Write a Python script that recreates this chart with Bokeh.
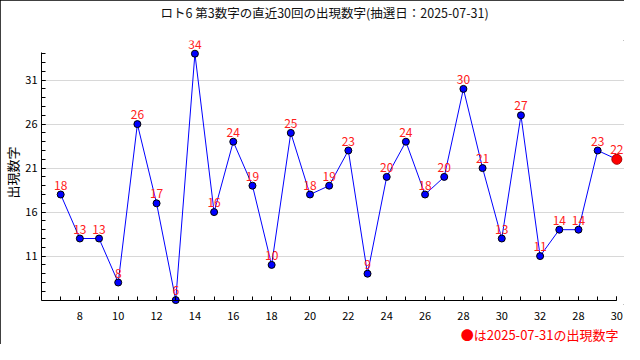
from bokeh.plotting import figure
from bokeh.models import (ColumnDataSource, LabelSet, FixedTicker, Range1d, Title,
                          LinearAxis)
from bokeh.core.properties import value
from bokeh.embed import file_html
from bokeh.resources import INLINE

FONT = "Noto Sans CJK JP"

title_text = "ロト6 第3数字の直近30回の出現数字(抽選日：2025-07-31)"
y_label = "出現数字"
legend_text = "●は2025-07-31の出現数字"

positions = list(range(1, 31))
values = [18, 13, 13, 8, 26, 17, 6, 34, 16, 24, 19, 10, 25, 18, 19,
          23, 9, 20, 24, 18, 20, 30, 21, 13, 27, 11, 14, 14, 23, 22]
tick_positions = [2, 4, 6, 8, 10, 12, 14, 16, 18, 20, 22, 24, 26, 28, 30]
tick_labels = ["8", "10", "12", "14", "16", "18", "20", "22", "24", "26",
               "28", "30", "32", "28", "30"]
y_ticks = [11, 16, 21, 26, 31]
y_minor = list(range(6, 35))

src = ColumnDataSource(dict(x=positions, y=values, t=[str(v) for v in values]))
last = ColumnDataSource(dict(x=positions[-1:], y=values[-1:]))
hist = ColumnDataSource(dict(x=positions[:-1], y=values[:-1]))

p = figure(width=624, height=344, output_backend="svg", toolbar_location=None,
           x_range=Range1d(0, 30.4), y_range=Range1d(5.5, 35.5),
           min_border_left=40, min_border_right=0, min_border_top=39,
           min_border_bottom=40)
p.styles = {"outline": "1px solid black", "outline-offset": "-1px"}
p.outline_line_color = None
p.background_fill_color = "white"
p.border_fill_color = "white"
p.title.text = ""

spacer = Title(text=" ", text_font_size="1px", standoff=16)
p.add_layout(spacer, "above")
main_title = Title(text=title_text, align="left", offset=119,
                   vertical_align="bottom", standoff=0,
                   text_font=FONT, text_font_size="12.5px",
                   text_font_style="normal", text_color="#111111")
p.add_layout(main_title, "above")

# x axis: line and ticks at y=6, labels on a second axis just below the frame
xa = p.xaxis[0]
xa.ticker = FixedTicker(ticks=tick_positions, minor_ticks=positions)
xa.fixed_location = 6
xa.bounds = (0, 30)
xa.major_label_text_font_size = "0px"
xa.major_label_text_color = None

xl = LinearAxis(ticker=FixedTicker(ticks=tick_positions, minor_ticks=[]),
                major_label_overrides={k: v for k, v in zip(tick_positions, tick_labels)},
                axis_line_color=None, major_tick_line_color=None,
                minor_tick_line_color=None, major_label_standoff=1,
                major_label_text_font=FONT, major_label_text_font_size="11px",
                major_label_text_color="black")
p.add_layout(xl, "below")

ya = p.yaxis[0]
ya.ticker = FixedTicker(ticks=y_ticks, minor_ticks=y_minor)
ya.bounds = (6, 34.1)
ya.axis_label = y_label
ya.axis_label_text_font = FONT
ya.axis_label_text_font_size = "13px"
ya.axis_label_text_font_style = "normal"
ya.axis_label_text_color = "black"
ya.axis_label_standoff = 0
ya.major_label_text_font = FONT
ya.major_label_text_font_size = "11px"
ya.major_label_text_color = "black"
ya.major_label_standoff = 4
for ax in (xa, ya):
    ax.axis_line_color = "black"
    ax.major_tick_in = 4
    ax.major_tick_out = 0
    ax.minor_tick_in = 4
    ax.minor_tick_out = 0
    ax.major_tick_line_color = "black"
    ax.minor_tick_line_color = "black"

p.xgrid.grid_line_color = None
p.ygrid.grid_line_color = "#d8d8d8"
p.ygrid.ticker = FixedTicker(ticks=y_ticks)

labels = LabelSet(x="x", y="y", text="t", source=src, text_align="center",
                  text_baseline="alphabetic", y_offset=5, text_color="#ff2020",
                  text_font=value(FONT), text_font_size="12px")
p.add_layout(labels)

p.line("x", "y", source=src, line_color="#0000ff", line_width=1)
p.scatter("x", "y", source=hist, size=7, fill_color="#0000ff", line_color="black")
p.scatter("x", "y", source=last, size=10, fill_color="#ff0000", line_color="#aa0000")

leg = Title(text=legend_text, align="right", vertical_align="bottom",
            text_color="#ff0000", text_font=FONT, text_font_size="13px",
            text_font_style="normal", standoff=0, offset=6)
p.add_layout(leg, "below")

open("out.html", "w").write(file_html(p, INLINE))
